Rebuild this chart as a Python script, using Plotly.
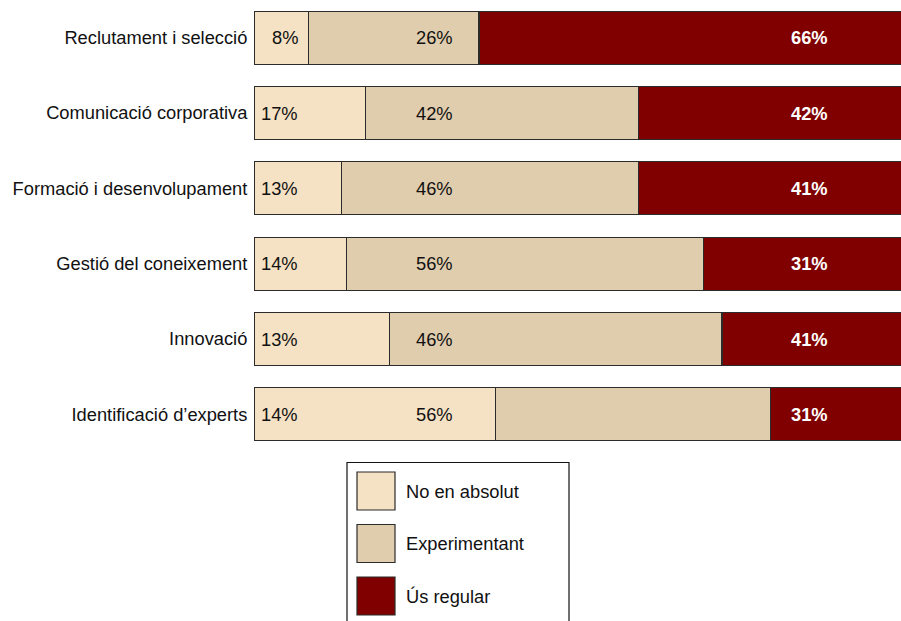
import plotly.graph_objects as go

# ---------------- data ----------------
categories = [
    "Reclutament i selecció",
    "Comunicació corporativa",
    "Formació i desenvolupament",
    "Gestió del coneixement",
    "Innovació",
    "Identificació d’experts",
]
series_names = ["No en absolut", "Experimentant", "Ús regular"]

# segment values as drawn
no_en_absolut = [8.4, 17.2, 13.4, 14.2, 20.9, 37.2]
experimentant = [26.2, 41.9, 45.7, 54.9, 51.1, 42.3]
us_regular = [65.4, 40.9, 40.9, 30.9, 28.0, 20.5]

# printed labels (as shown in the chart)
labels_no = ["8%", "17%", "13%", "14%", "13%", "14%"]
labels_exp = ["26%", "42%", "46%", "56%", "46%", "56%"]
labels_us = ["66%", "42%", "41%", "31%", "41%", "31%"]

colors = ["#F5E1C3", "#E0CDAD", "#800000"]

# ---------------- layout constants ----------------
W, H = 901, 621
ML, MR, MT, MB = 254, 0, 0, 169
PW, PH = W - ML - MR, H - MT - MB
PX_PER_UNIT = 6.5
XMAX = PW / PX_PER_UNIT
FONT = "Liberation Sans, Arial, sans-serif"
FS = 18.3

fig = go.Figure()
for name, vals, col in zip(series_names, [no_en_absolut, experimentant, us_regular], colors):
    fig.add_trace(go.Bar(
        y=categories, x=vals, name=name, orientation="h",
        marker=dict(color=col, line=dict(color="#2b2b2b", width=1.2)),
        showlegend=False, hoverinfo="x+y+name",
    ))

# value labels at fixed positions
lab_x = [(300 - ML) / PX_PER_UNIT, (434.5 - ML) / PX_PER_UNIT, (809 - ML) / PX_PER_UNIT]
lab_anchor = ["right", "center", "center"]
annotations = []
for li, labels in enumerate([labels_no, labels_exp, labels_us]):
    for cat, t in zip(categories, labels):
        if li == 2:
            txt = "<b>" + t + "</b>"
            fcol = "white"
        else:
            txt = t
            fcol = "#111111"
        annotations.append(dict(
            x=lab_x[li], y=cat, xref="x", yref="y", text=txt, showarrow=False,
            xanchor=lab_anchor[li], yanchor="middle",
            font=dict(family=FONT, size=FS, color=fcol),
        ))

# manual legend (pixel -> paper)
def px(xp):
    return (xp - ML) / PW

def py(yp):
    return 1 - (yp - MT) / PH

shapes = [dict(type="rect", xref="paper", yref="paper",
               x0=px(347), x1=px(569), y0=py(640), y1=py(462.5),
               line=dict(color="#111111", width=1.2), fillcolor="white", layer="above")]
sq_top = [472, 524.5, 577]
for name, col, top in zip(series_names, colors, sq_top):
    shapes.append(dict(type="rect", xref="paper", yref="paper",
                       x0=px(357), x1=px(395), y0=py(top + 38), y1=py(top),
                       line=dict(color="#2b2b2b", width=1.2), fillcolor=col, layer="above"))
    annotations.append(dict(x=px(403.5), y=py(top + 19), xref="paper", yref="paper",
                            text=name, showarrow=False, xanchor="left", yanchor="middle",
                            font=dict(family=FONT, size=FS, color="#111111")))

fig.update_layout(
    width=W, height=H, barmode="stack", bargap=0.296,
    margin=dict(l=ML, r=MR, t=MT, b=MB, pad=0),
    paper_bgcolor="white", plot_bgcolor="white",
    font=dict(family=FONT, size=FS, color="#111111"),
    xaxis=dict(range=[0, XMAX], showticklabels=False, showgrid=False, zeroline=False,
               showline=False, ticks=""),
    yaxis=dict(range=[5.5, -0.5], showgrid=False, zeroline=False, showline=False,
               ticks="outside", ticklen=2, tickcolor="rgba(0,0,0,0)",
               tickfont=dict(family=FONT, size=FS, color="#111111")),
    shapes=shapes, annotations=annotations,
)

fig.write_html("out.html")
